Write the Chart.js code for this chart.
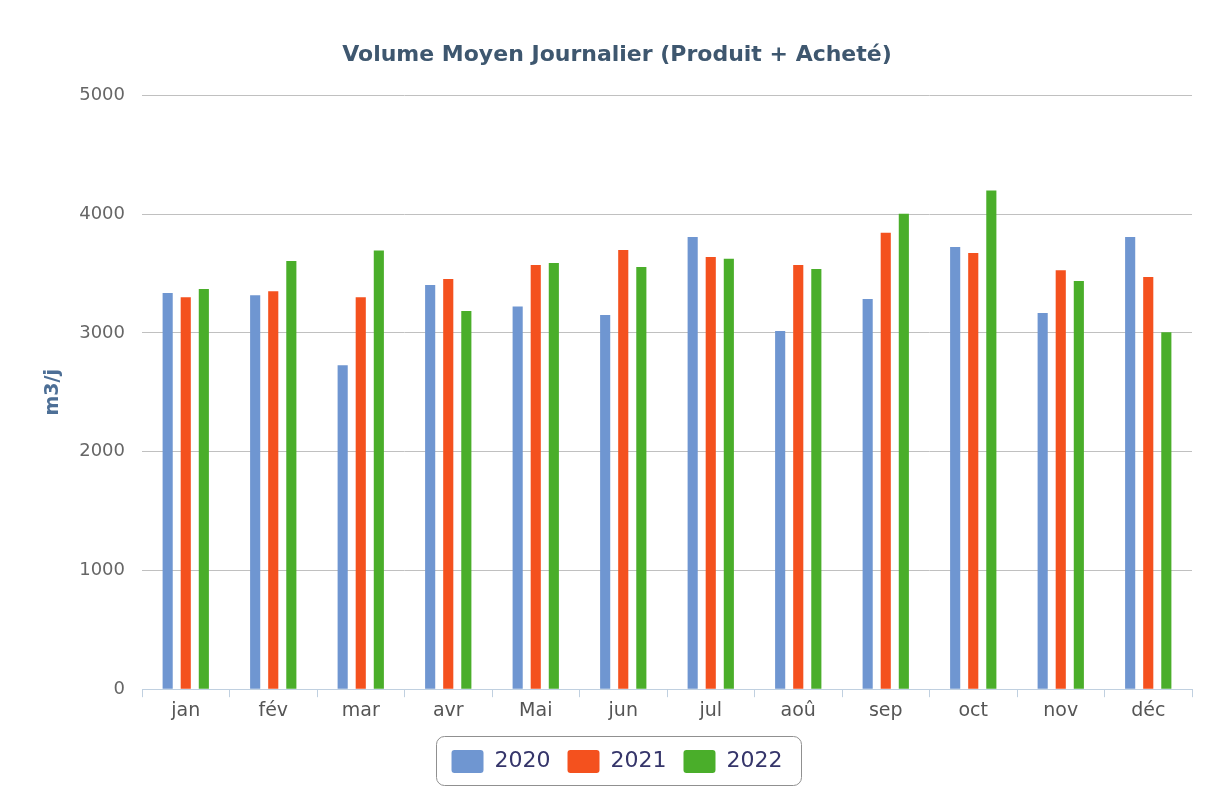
<!DOCTYPE html>
<html>
<head>
<meta charset="utf-8">
<script src="https://cdn.jsdelivr.net/npm/chart.js@4.4.1/dist/chart.umd.min.js"></script>
<style>
html,body{margin:0;padding:0;background:#fff;}
#wrap{width:1207px;height:811px;}
</style>
</head>
<body>
<div id="wrap"><canvas id="c" width="1207" height="811"></canvas></div>
<script>
const categories = ['jan','fév','mar','avr','Mai','jun','jul','aoû','sep','oct','nov','déc'];
const values2020 = [3336,3317,2727,3404,3222,3150,3808,3017,3285,3723,3167,3808];
const values2021 = [3300,3351,3300,3455,3571,3698,3640,3571,3844,3673,3527,3471];
const values2022 = [3370,3605,3693,3184,3588,3555,3625,3538,4003,4200,3437,3005];
const seriesNames = ['2020','2021','2022'];
const yTicks = [0,1000,2000,3000,4000,5000];

const colors = ['#6f96d1','#f4511e','#4aae2a'];

const legendBox = {
  id:'legendBox',
  afterDraw(chart){
    const lg = chart.legend;
    if(!lg || !lg.legendHitBoxes || !lg.legendHitBoxes.length) return;
    const hb = lg.legendHitBoxes;
    let x0 = Math.min(...hb.map(h=>h.left)) - 16;
    let x1 = Math.max(...hb.map(h=>h.left+h.width)) + 18;
    let y0 = Math.min(...hb.map(h=>h.top)) - 14;
    let y1 = Math.max(...hb.map(h=>h.top+h.height)) + 12;
    const ctx = chart.ctx;
    ctx.save();
    ctx.strokeStyle = '#909090';
    ctx.lineWidth = 1;
    ctx.beginPath();
    ctx.roundRect(Math.round(x0)+0.5, Math.round(y0)+0.5, Math.round(x1-x0), Math.round(y1-y0), 8);
    ctx.stroke();
    ctx.restore();
  }
};

new Chart(document.getElementById('c'), {
  type:'bar',
  data:{
    labels:categories,
    datasets:[
      {label:seriesNames[0], data:values2020, backgroundColor:colors[0]},
      {label:seriesNames[1], data:values2021, backgroundColor:colors[1]},
      {label:seriesNames[2], data:values2022, backgroundColor:colors[2]}
    ]
  },
  options:{
    responsive:false,
    animation:false,
    devicePixelRatio:1,
    categoryPercentage:0.62,
    barPercentage:0.56,
    layout:{padding:{left:42,right:15,top:20,bottom:28}},
    plugins:{
      title:{
        display:true,
        text:'Volume Moyen Journalier (Produit + Acheté)',
        color:'#3e576f',
        font:{family:'DejaVu Sans',size:22,weight:'bold'},
        padding:{top:22,bottom:27}
      },
      legend:{
        position:'bottom',
        labels:{
          boxWidth:32,boxHeight:23,
          color:'#35356a',
          font:{family:'DejaVu Sans',size:22},
          padding:17,
          useBorderRadius:true,borderRadius:3
        }
      },
      tooltip:{enabled:false}
    },
    scales:{
      x:{
        afterFit(scale){ scale.height += 9; },
        grid:{display:true,drawOnChartArea:false,drawTicks:true,tickLength:8,color:'#c0d0e0',offset:true},
        border:{display:true,color:'#c0d0e0'},
        ticks:{color:'#555',font:{family:'DejaVu Sans',size:19},padding:2}
      },
      y:{
        min:0,max:5000,
        afterBuildTicks(scale){ scale.ticks = yTicks.map(v=>({value:v})); },
        afterFit(scale){ scale.width = 100; },
        grid:{color:'#c0c0c0',drawTicks:false},
        border:{display:false},
        ticks:{color:'#666',font:{family:'DejaVu Sans',size:18},padding:17,callback:(v)=>String(v)},
        title:{display:true,text:'m3/j',color:'#4d6f96',font:{family:'DejaVu Sans',size:19,weight:'bold'},padding:{top:0,bottom:0}}
      }
    }
  },
  plugins:[legendBox]
});
</script>
</body>
</html>
